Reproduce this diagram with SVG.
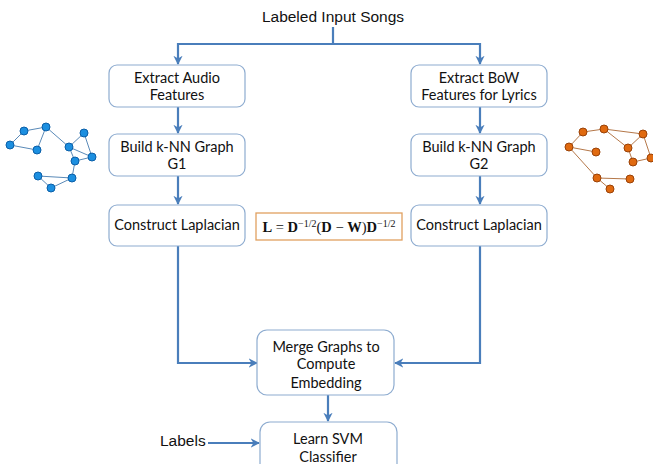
<svg xmlns="http://www.w3.org/2000/svg" width="653" height="464" viewBox="0 0 653 464">
<defs>
<marker id="ah" viewBox="0 0 10 10" refX="9" refY="5" markerWidth="4.2" markerHeight="4.2" orient="auto" markerUnits="strokeWidth">
<path d="M0,0 L10,5 L0,10 L3,5 Z" fill="#4a7ebb"/>
</marker>
<style>
.box{fill:#fff;stroke:#8eacd0;stroke-width:1.2}
.t{font-family:Lato,"Open Sans","Liberation Sans",sans-serif;font-size:14.5px;fill:#111;text-anchor:middle}
.a{font-family:"Liberation Sans",Arial,sans-serif;font-size:15.5px;fill:#111}
.c{fill:none;stroke:#4a7ebb;stroke-width:2.2}
.ca{fill:none;stroke:#4a7ebb;stroke-width:2.2;marker-end:url(#ah)}
.be{stroke:#5a8ab8;stroke-width:1}
.bn{fill:#1c8fe0;stroke:#0b5fa8;stroke-width:1}
.oe{stroke:#b5784a;stroke-width:1}
.on{fill:#e06a10;stroke:#9a4208;stroke-width:1}
.f{font-family:"Liberation Serif","Times New Roman",serif;font-size:14.5px;fill:#111}
</style>
</defs>
<rect width="653" height="464" fill="#fff"/>
<text class="a" x="333" y="22" text-anchor="middle">Labeled Input Songs</text>
<text class="a" x="160" y="446">Labels</text>

<g id="connectors">
<path class="c" d="M333,27 V44 M178,44 H480"/>
<path class="ca" d="M178,43 V64"/>
<path class="ca" d="M480,43 V64"/>
<path class="ca" d="M178,107 V133"/>
<path class="ca" d="M480,107 V133"/>
<path class="ca" d="M178,176 V204"/>
<path class="ca" d="M480,176 V204"/>
<path class="ca" d="M178,246 V363 H257"/>
<path class="ca" d="M480,246 V363 H395"/>
<path class="ca" d="M328,395 V421"/>
<path class="ca" d="M208,443 H259"/>
</g>

<g id="n_audio"><rect class="box" x="109" y="65" width="136" height="42" rx="8"/><text class="t" x="177" y="83">Extract Audio</text><text class="t" x="177" y="100">Features</text></g>
<g id="n_bow"><rect class="box" x="411" y="65" width="136" height="42" rx="8"/><text class="t" x="479" y="83">Extract BoW</text><text class="t" x="479" y="100">Features for Lyrics</text></g>
<g id="n_g1"><rect class="box" x="109" y="134" width="136" height="42" rx="8"/><text class="t" x="177" y="152">Build k-NN Graph</text><text class="t" x="177" y="169">G1</text></g>
<g id="n_g2"><rect class="box" x="411" y="134" width="136" height="42" rx="8"/><text class="t" x="479" y="152">Build k-NN Graph</text><text class="t" x="479" y="169">G2</text></g>
<g id="n_lap1"><rect class="box" x="109" y="205" width="136" height="41" rx="8"/><text class="t" x="177" y="230">Construct Laplacian</text></g>
<g id="n_lap2"><rect class="box" x="411" y="205" width="136" height="41" rx="8"/><text class="t" x="479" y="230">Construct Laplacian</text></g>
<g id="n_formula"><rect x="256" y="213" width="146" height="27" fill="#fff" stroke="#e0a060" stroke-width="1.3"/>
<text class="f" x="329" y="232" text-anchor="middle"><tspan font-weight="bold">L</tspan> = <tspan font-weight="bold">D</tspan><tspan font-size="10" dy="-5">−1/2</tspan><tspan dy="5">(</tspan><tspan font-weight="bold">D</tspan> − <tspan font-weight="bold">W</tspan>)<tspan font-weight="bold">D</tspan><tspan font-size="10" dy="-5">−1/2</tspan></text></g>
<g id="n_merge"><rect class="box" x="257" y="330" width="137" height="65" rx="10"/><text class="t" x="326" y="352">Merge Graphs to</text><text class="t" x="326" y="369">Compute</text><text class="t" x="326" y="388">Embedding</text></g>
<g id="n_svm"><rect class="box" x="260" y="422" width="137" height="60" rx="10"/><text class="t" x="328" y="444">Learn SVM</text><text class="t" x="328" y="462">Classifier</text></g>

<g id="graph_left">
<g class="be">
<line x1="10" y1="145" x2="24" y2="131"/><line x1="24" y1="131" x2="46" y2="127"/><line x1="46" y1="127" x2="37" y2="150"/><line x1="37" y1="150" x2="10" y2="145"/>
<line x1="46" y1="127" x2="69" y2="147"/><line x1="69" y1="147" x2="84" y2="133"/><line x1="84" y1="133" x2="92" y2="157"/><line x1="69" y1="147" x2="92" y2="157"/>
<line x1="69" y1="147" x2="75" y2="161"/><line x1="75" y1="161" x2="92" y2="157"/><line x1="75" y1="161" x2="72" y2="178"/>
<line x1="72" y1="178" x2="38" y2="176"/><line x1="38" y1="176" x2="51" y2="188"/><line x1="51" y1="188" x2="72" y2="178"/>
</g>
<g class="bn">
<circle cx="24" cy="131" r="4"/><circle cx="46" cy="127" r="4"/><circle cx="10" cy="145" r="4"/><circle cx="37" cy="150" r="4"/>
<circle cx="69" cy="147" r="4"/><circle cx="84" cy="133" r="4"/><circle cx="92" cy="157" r="4"/><circle cx="75" cy="161" r="4"/>
<circle cx="72" cy="178" r="4"/><circle cx="38" cy="176" r="4"/><circle cx="51" cy="188" r="4"/>
</g>
</g>

<g id="graph_right">
<g class="oe">
<line x1="569" y1="147" x2="583" y2="132"/><line x1="583" y1="132" x2="604" y2="129"/><line x1="604" y1="129" x2="643" y2="134"/><line x1="604" y1="129" x2="628" y2="148"/>
<line x1="628" y1="148" x2="643" y2="134"/><line x1="643" y1="134" x2="651" y2="158"/><line x1="651" y1="158" x2="633" y2="162"/><line x1="633" y1="162" x2="628" y2="148"/>
<line x1="569" y1="147" x2="596" y2="152"/><line x1="569" y1="147" x2="597" y2="178"/><line x1="597" y1="178" x2="630" y2="179"/><line x1="597" y1="178" x2="610" y2="189"/>
</g>
<g class="on">
<circle cx="583" cy="132" r="4"/><circle cx="604" cy="129" r="4"/><circle cx="569" cy="147" r="4"/><circle cx="596" cy="152" r="4"/>
<circle cx="643" cy="134" r="4"/><circle cx="628" cy="148" r="4"/><circle cx="633" cy="162" r="4"/><circle cx="651" cy="158" r="4"/>
<circle cx="597" cy="178" r="4"/><circle cx="630" cy="179" r="4"/><circle cx="610" cy="189" r="4"/>
</g>
</g>
</svg>
